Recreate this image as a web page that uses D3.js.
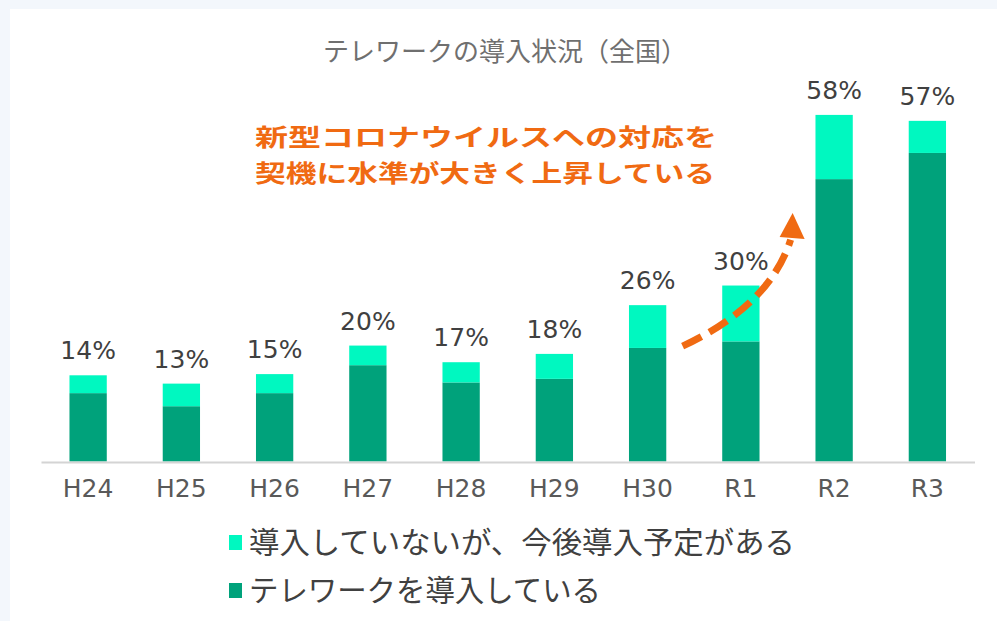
<!DOCTYPE html>
<html>
<head>
<meta charset="utf-8">
<script src="https://cdn.jsdelivr.net/npm/d3@7"></script>
<style>
  html, body { margin: 0; padding: 0; background: #f3f7fc; }
  svg { display: block; font-family: "Noto Sans CJK JP", "Noto Sans", sans-serif; }
</style>
</head>
<body>
<svg id="chart" width="997" height="621"></svg>
<script>
  // values (percent of companies)
  var years = ['H24', 'H25', 'H26', 'H27', 'H28', 'H29', 'H30', 'R1', 'R2', 'R3'];
  var introduced = [11.5, 9.3, 11.5, 16.2, 13.3, 13.9, 19.1, 20.2, 47.5, 51.9];
  var planned = [3.0, 3.8, 3.2, 3.3, 3.4, 4.2, 7.2, 9.4, 10.8, 5.4];
  var totalLabels = ['14%', '13%', '15%', '20%', '17%', '18%', '26%', '30%', '58%', '57%'];

  var seriesNames = ['導入していないが、今後導入予定がある', 'テレワークを導入している'];
  var colors = { planned: '#00f8c0', introduced: '#00a27b' };

  var numFont = '"DejaVu Sans", Verdana, sans-serif';
  var jpFont = '"Noto Sans CJK JP", "Noto Sans", sans-serif';

  var svg = d3.select('#chart');

  // white panel
  svg.append('rect')
    .attr('x', 10).attr('y', 9)
    .attr('width', 997).attr('height', 621)
    .attr('fill', '#ffffff');

  var x = d3.scaleBand().domain(years).range([41.5, 974]).paddingInner(0.6).paddingOuter(0.3);
  var y = d3.scaleLinear().domain([0, 60]).range([461.5, 104.8]);

  var rows = years.map(function (yr, i) {
    return { year: yr, introduced: introduced[i], planned: planned[i], label: totalLabels[i] };
  });

  var stack = d3.stack().keys(['introduced', 'planned'])(rows);

  svg.append('g').selectAll('g')
    .data(stack)
    .join('g')
    .attr('fill', function (d) { return colors[d.key]; })
    .selectAll('rect')
    .data(function (d) { return d; })
    .join('rect')
    .attr('x', function (d) { return x(d.data.year); })
    .attr('y', function (d) { return y(d[1]); })
    .attr('width', x.bandwidth())
    .attr('height', function (d) { return y(d[0]) - y(d[1]); });

  // baseline
  svg.append('line')
    .attr('x1', 41.5).attr('x2', 975)
    .attr('y1', y(0) + 1).attr('y2', y(0) + 1)
    .attr('stroke', '#d4d4d4').attr('stroke-width', 2);

  // total labels
  svg.append('g').selectAll('text')
    .data(rows)
    .join('text')
    .attr('x', function (d) { return x(d.year) + x.bandwidth() / 2; })
    .attr('y', function (d) { return y(d.introduced + d.planned) - 16; })
    .attr('text-anchor', 'middle')
    .style('font-family', numFont)
    .style('font-size', '25px')
    .attr('fill', '#404040')
    .text(function (d) { return d.label; });

  // category axis
  var xAxis = svg.append('g')
    .attr('transform', 'translate(0,' + (y(0) + 2) + ')')
    .call(d3.axisBottom(x).tickSize(0));
  xAxis.select('.domain').remove();
  xAxis.selectAll('text')
    .style('font-family', numFont)
    .style('font-size', '25px')
    .attr('fill', '#595959')
    .attr('y', 33.5)
    .attr('dy', null);

  // title
  svg.append('text')
    .attr('x', 505).attr('y', 61)
    .attr('text-anchor', 'middle')
    .style('font-family', jpFont)
    .style('font-size', '26px')
    .attr('fill', '#6f6f6f')
    .text('テレワークの導入状況（全国）');

  // annotation
  var noteLines = [
    { text: '新型コロナウイルスへの対応を', len: 462 },
    { text: '契機に水準が大きく上昇している', len: 460 }
  ];
  svg.append('g').selectAll('text')
    .data(noteLines)
    .join('text')
    .attr('x', 255)
    .attr('y', function (d, i) { return 146 + i * 35.5; })
    .style('font-family', jpFont)
    .style('font-size', '24px')
    .style('font-weight', 'bold')
    .attr('fill', '#f06a12')
    .attr('textLength', function (d) { return d.len; })
    .attr('lengthAdjust', 'spacingAndGlyphs')
    .text(function (d) { return d.text; });

  // dashed arrow from H30 towards R2, placed off the band centres
  var cx = function (k) { return x(k) + x.bandwidth() / 2; };
  var p0 = [cx('H30') + 35, y(19.4)],
    p1 = [cx('R1') + 29, y(26.3)],
    p2 = [cx('R2') - 43.5, y(37.3)];
  var curve = d3.path();
  curve.moveTo(p0[0], p0[1]);
  curve.quadraticCurveTo(p1[0], p1[1], p2[0], p2[1]);
  svg.append('path')
    .attr('d', curve.toString())
    .attr('fill', 'none')
    .attr('stroke', '#f06a12')
    .attr('stroke-width', 7)
    .attr('stroke-dasharray', '21 9');

  var tip = [cx('R2') - 41.5, y(41.8)];
  svg.append('path')
    .attr('d', 'M' + tip[0] + ',' + tip[1] +
      'L' + (tip[0] - 13) + ',' + (tip[1] + 24) +
      'L' + (tip[0] + 12) + ',' + (tip[1] + 26) + 'Z')
    .attr('fill', '#f06a12');

  // legend
  var legend = svg.append('g').selectAll('g')
    .data([
      { name: seriesNames[0], color: colors.planned, len: 546 },
      { name: seriesNames[1], color: colors.introduced, len: 352 }
    ])
    .join('g')
    .attr('transform', function (d, i) { return 'translate(229,' + (535 + i * 48) + ')'; });
  legend.append('rect')
    .attr('width', 13).attr('height', 15)
    .attr('fill', function (d) { return d.color; });
  legend.append('text')
    .attr('x', 20).attr('y', 18)
    .style('font-family', jpFont)
    .style('font-size', '30px')
    .attr('fill', '#404040')
    .attr('textLength', function (d) { return d.len; })
    .attr('lengthAdjust', 'spacingAndGlyphs')
    .text(function (d) { return d.name; });
</script>
</body>
</html>
